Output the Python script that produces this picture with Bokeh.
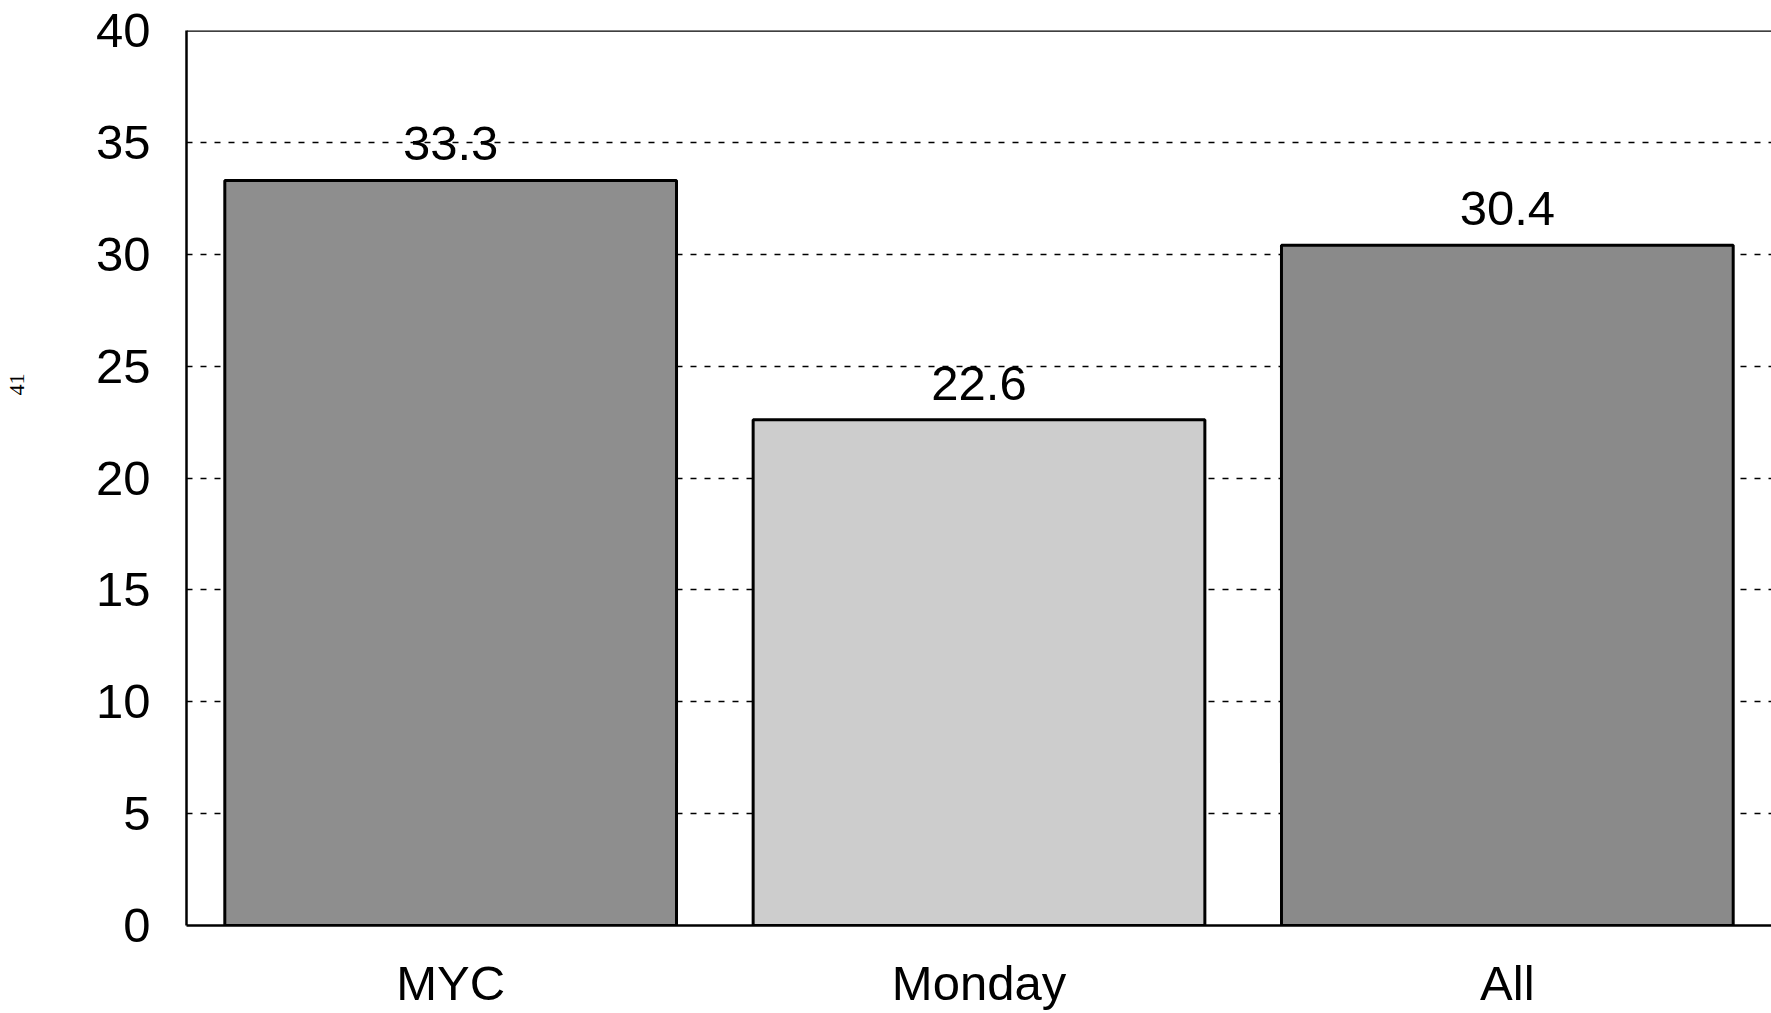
from bokeh.plotting import figure
from bokeh.models import ColumnDataSource, Span, FixedTicker, LabelSet, Title
from bokeh.core.properties import value
from bokeh.embed import file_html
from bokeh.resources import INLINE

categories = ["MYC", "Monday", "All"]
values = [33.3, 22.6, 30.4]
bar_colors = ["#8e8e8e", "#cdcdcd", "#8a8a8a"]
y_ticks = [0, 5, 10, 15, 20, 25, 30, 35, 40]
value_labels = [f"{v:.1f}" for v in values]
page_number = "41"

FONT = "Liberation Sans"

src = ColumnDataSource(dict(cat=categories, val=values, col=bar_colors, lab=value_labels))

p = figure(x_range=categories, y_range=(0, 40), width=1771, height=1013,
           output_backend="svg", toolbar_location=None,
           min_border_left=186, min_border_right=0, min_border_top=30, min_border_bottom=88)
p.x_range.range_padding = 0
p.background_fill_color = "white"
p.border_fill_color = "white"
p.outline_line_color = None

p.vbar(x="cat", top="val", width=0.855, source=src, fill_color="col",
       line_color="black", line_width=3)

labels = LabelSet(x="cat", y="val", text="lab", source=src, text_align="center",
                  text_baseline="alphabetic", y_offset=20, text_font=value(FONT),
                  text_font_size=value("49px"), text_color="black")
p.add_layout(labels)

# top border line
p.add_layout(Span(location=40, dimension="width", line_color="black", line_width=2.5))

# grid
p.xgrid.grid_line_color = None
p.ygrid.ticker = FixedTicker(ticks=y_ticks[1:-1])
p.ygrid.grid_line_color = "black"
p.ygrid.grid_line_dash = "6 8"
p.ygrid.grid_line_width = 1.6

# axes
p.yaxis.ticker = FixedTicker(ticks=y_ticks)
for ax in (p.xaxis[0], p.yaxis[0]):
    ax.axis_line_color = "black"
    ax.axis_line_width = 2.5
    ax.major_tick_line_color = None
    ax.minor_tick_line_color = None
    ax.major_tick_out = 0
    ax.major_tick_in = 0
    ax.major_label_text_font = FONT
    ax.major_label_text_font_size = "49px"
    ax.major_label_text_color = "black"
p.yaxis.major_label_standoff = 36
p.xaxis.major_label_standoff = 30
# blank axis label only used as spacing so the page number sits at the far edge
p.yaxis.axis_label = " "
p.yaxis.axis_label_text_font_size = "20px"
p.yaxis.axis_label_standoff = 39

# page number in the far left margin
p.add_layout(Title(text=page_number, align="right", offset=343, standoff=10,
                   text_font="Liberation Serif", text_font_size="22px",
                   text_font_style="normal", text_color="black"), "left")

open("out.html", "w").write(file_html(p, INLINE))
